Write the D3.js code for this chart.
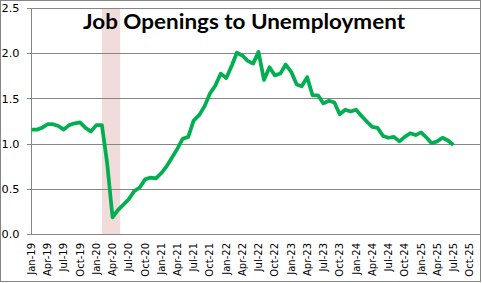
<!DOCTYPE html>
<html>
<head>
<meta charset="utf-8">
<script src="https://cdn.jsdelivr.net/npm/d3@7"></script>
<style>
  html, body { margin: 0; padding: 0; background: #fff; }
  svg { display: block; }
</style>
</head>
<body>
<svg id="chart" width="482" height="283"></svg>
<script>
// ---- Data ----
const title = "Job Openings to Unemployment";
const seriesStart = [2019, 0]; // Jan-2019, monthly observations
const ratio = [
  1.16, 1.16, 1.18, 1.22, 1.22, 1.20, 1.16, 1.21, 1.23, 1.24, 1.18, 1.14,   // 2019
  1.21, 1.21, 0.80, 0.19, 0.27, 0.33, 0.39, 0.48, 0.52, 0.61, 0.63, 0.62,   // 2020
  0.68, 0.76, 0.85, 0.95, 1.06, 1.08, 1.26, 1.32, 1.42, 1.56, 1.65, 1.78,   // 2021
  1.73, 1.87, 2.01, 1.98, 1.92, 1.89, 2.02, 1.71, 1.85, 1.76, 1.78, 1.88,   // 2022
  1.80, 1.66, 1.64, 1.74, 1.54, 1.54, 1.45, 1.48, 1.46, 1.33, 1.38, 1.36,   // 2023
  1.38, 1.31, 1.25, 1.19, 1.18, 1.09, 1.07, 1.08, 1.03, 1.08, 1.12, 1.10,   // 2024
  1.13, 1.07, 1.01, 1.03, 1.07, 1.04, 0.99                                   // 2025
];
const tickLabels = [
  "Jan-19","Apr-19","Jul-19","Oct-19","Jan-20","Apr-20","Jul-20","Oct-20",
  "Jan-21","Apr-21","Jul-21","Oct-21","Jan-22","Apr-22","Jul-22","Oct-22",
  "Jan-23","Apr-23","Jul-23","Oct-23","Jan-24","Apr-24","Jul-24","Oct-24",
  "Jan-25","Apr-25","Jul-25","Oct-25"
];
const yTicks = [0, 0.5, 1.0, 1.5, 2.0, 2.5];
const xDomain = ["2019-01-01", "2025-12-01"];
const recession = ["2020-02-01", "2020-05-14"];

// ---- Layout ----
const svg = d3.select("#chart");
const pL = 31.5, pR = 480.5, pT = 8.5, pB = 234.5;
const parse = d3.utcParse("%Y-%m-%d");

const x = d3.scaleUtc().domain(xDomain.map(parse)).range([pL, pR]);
const y = d3.scaleLinear().domain([0, 2.5]).range([pB, pT]);

const dates = ratio.map((v, i) => new Date(Date.UTC(seriesStart[0], seriesStart[1] + i, 1)));
const tickDates = tickLabels.map((l, k) => new Date(Date.UTC(seriesStart[0], seriesStart[1] + 3 * k, 1)));

// outer chart border
svg.append("rect")
  .attr("x", 0.5).attr("y", 0.5).attr("width", 480).attr("height", 281)
  .attr("fill", "#fff").attr("stroke", "#868686").attr("stroke-width", 1);

// recession band
svg.append("rect")
  .attr("x", x(parse(recession[0])))
  .attr("y", pT)
  .attr("width", x(parse(recession[1])) - x(parse(recession[0])))
  .attr("height", pB - pT)
  .attr("fill", "#f2dcdb");

// gridlines (with outward tick marks on y-axis)
svg.append("g").selectAll("line").data(yTicks).join("line")
  .attr("x1", pL - 5).attr("x2", pR)
  .attr("y1", d => Math.round(y(d) - 0.5) + 0.5)
  .attr("y2", d => Math.round(y(d) - 0.5) + 0.5)
  .attr("stroke", "#868686").attr("stroke-width", 1)
  .attr("shape-rendering", "crispEdges");

// y axis line and right plot edge
svg.append("line").attr("x1", pL).attr("x2", pL).attr("y1", pT).attr("y2", pB)
  .attr("stroke", "#868686").attr("shape-rendering", "crispEdges");
svg.append("line").attr("x1", pR).attr("x2", pR).attr("y1", pT).attr("y2", pB)
  .attr("stroke", "#868686").attr("shape-rendering", "crispEdges");

// y labels
const yFmt = d3.format(".1f");
svg.append("g").selectAll("text").data(yTicks).join("text")
  .attr("x", 19.5)
  .attr("y", d => y(d))
  .attr("dy", "0.36em")
  .attr("text-anchor", "end")
  .attr("font-family", "'DejaVu Sans', Verdana, sans-serif")
  .attr("font-size", "10px")
  .attr("fill", "#000")
  .attr("textLength", 18)
  .attr("lengthAdjust", "spacingAndGlyphs")
  .text(d => yFmt(d));

// x labels (rotated)
svg.append("g").selectAll("text").data(tickLabels).join("text")
  .attr("transform", (d, i) => `translate(${x(tickDates[i])},${243}) rotate(-90)`)
  .attr("dy", "0.35em")
  .attr("text-anchor", "end")
  .attr("font-family", "'DejaVu Sans', Verdana, sans-serif")
  .attr("font-size", "10px")
  .attr("fill", "#000")
  .text(d => d);

// line
const line = d3.line()
  .x((d, i) => x(dates[i]))
  .y(d => y(d));
svg.append("path")
  .datum(ratio)
  .attr("d", line)
  .attr("fill", "none")
  .attr("stroke", "#00b050")
  .attr("stroke-width", 3.75)
  .attr("stroke-linejoin", "round")
  .attr("stroke-linecap", "butt");

// title
svg.append("text")
  .attr("x", 244).attr("y", 29)
  .attr("text-anchor", "middle")
  .attr("font-family", "Lato, 'Open Sans', sans-serif")
  .attr("font-weight", "bold")
  .attr("font-size", "20px")
  .attr("fill", "#000")
  .attr("textLength", 322)
  .attr("lengthAdjust", "spacingAndGlyphs")
  .text(title);
</script>
</body>
</html>
